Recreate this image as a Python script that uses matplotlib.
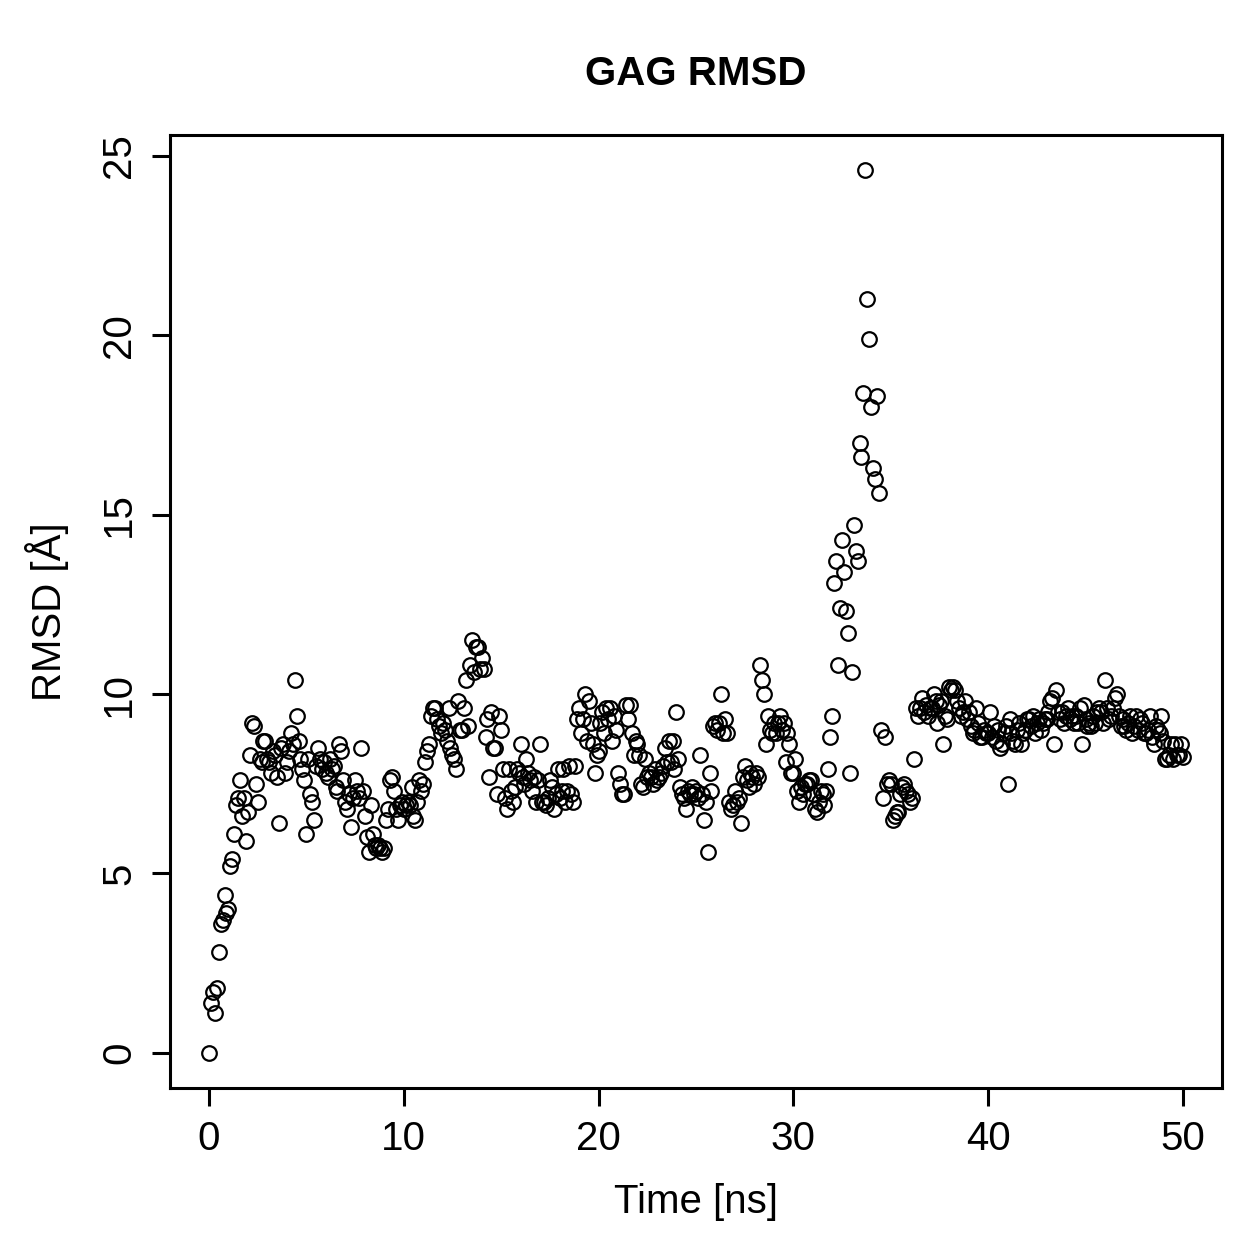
import matplotlib
matplotlib.use("Agg")
import matplotlib.pyplot as plt
import numpy as np

plt.rcParams['font.family'] = ['Liberation Sans', 'DejaVu Sans']

# RMSD values, one row per ns (0.1 ns steps)
rmsd = [
    0.0, 1.4, 1.7, 1.1, 1.8, 2.8, 3.6, 3.7, 4.4, 3.9,
    4.0, 5.2, 5.4, 6.1, 6.9, 7.1, 7.6, 6.6, 7.1, 5.9,
    6.7, 8.3, 9.2, 9.1, 7.5, 7.0, 8.2, 8.1, 8.7, 8.7,
    8.2, 8.1, 7.8, 8.4, 8.3, 7.7, 6.4, 8.5, 8.6, 7.8,
    8.1, 8.4, 8.9, 8.6, 10.4, 9.4, 8.7, 8.2, 7.9, 7.6,
    6.1, 8.2, 7.2, 7.0, 6.5, 8.0, 8.5, 8.2, 7.9, 8.1,
    7.8, 7.7, 8.2, 7.9, 8.0, 7.4, 7.3, 8.6, 8.4, 7.6,
    7.0, 6.8, 7.2, 6.3, 7.1, 7.6, 7.3, 7.1, 8.5, 7.3,
    6.6, 6.0, 5.6, 6.9, 6.1, 5.8, 5.7, 5.8, 5.7, 5.6,
    5.7, 6.5, 6.8, 7.6, 7.7, 7.3, 6.8, 6.5, 6.9, 7.0,
    6.8, 6.9, 7.0, 6.9, 7.4, 6.6, 6.5, 7.0, 7.6, 7.3,
    7.5, 8.1, 8.4, 8.6, 9.4, 9.6, 9.6, 9.3, 9.1, 8.9,
    9.2, 9.0, 8.7, 9.6, 8.5, 8.3, 8.2, 7.9, 9.8, 9.0,
    9.0, 9.6, 10.4, 9.1, 10.8, 11.5, 10.6, 11.3, 11.3, 10.7,
    11.0, 10.7, 8.8, 9.3, 7.7, 9.5, 8.5, 8.5, 7.2, 9.4,
    9.0, 7.9, 7.1, 6.8, 7.9, 7.3, 7.0, 7.4, 7.9, 7.8,
    8.6, 7.7, 7.5, 8.2, 7.8, 7.6, 7.3, 7.7, 7.0, 7.6,
    8.6, 7.0, 7.0, 6.9, 7.1, 7.6, 7.4, 6.8, 7.2, 7.9,
    7.1, 7.3, 7.9, 7.0, 7.3, 8.0, 7.2, 7.0, 8.0, 9.3,
    9.6, 8.9, 9.3, 10.0, 8.7, 9.8, 9.2, 8.6, 7.8, 8.3,
    8.4, 9.2, 9.5, 8.9, 9.6, 9.3, 9.6, 8.7, 9.4, 9.0,
    7.8, 7.5, 7.2, 7.2, 9.7, 9.3, 9.7, 8.9, 8.3, 8.7,
    8.6, 8.3, 7.5, 7.4, 8.2, 7.7, 7.8, 7.7, 7.5, 7.9,
    7.6, 7.7, 7.8, 8.0, 8.5, 8.1, 8.7, 8.1, 8.7, 7.9,
    9.5, 8.2, 7.4, 7.2, 7.1, 6.8, 7.3, 7.2, 7.4, 7.2,
    7.3, 7.1, 8.3, 7.2, 6.5, 7.0, 5.6, 7.8, 7.3, 9.1,
    9.2, 9.0, 9.2, 10.0, 8.9, 9.3, 8.9, 7.0, 6.8, 6.9,
    7.3, 7.0, 7.1, 6.4, 7.7, 8.0, 7.6, 7.4, 7.8, 7.7,
    7.5, 7.8, 7.7, 10.8, 10.4, 10.0, 8.6, 9.4, 9.0, 8.9,
    9.2, 8.9, 9.2, 9.4, 9.0, 9.2, 8.1, 8.9, 8.6, 7.8,
    7.8, 8.2, 7.3, 7.0, 7.4, 7.2, 7.5, 7.5, 7.6, 7.6,
    7.2, 6.8, 6.7, 7.0, 7.3, 7.2, 6.9, 7.3, 7.9, 8.8,
    9.4, 13.1, 13.7, 10.8, 12.4, 14.3, 13.4, 12.3, 11.7, 7.8,
    10.6, 14.7, 14.0, 13.7, 17.0, 16.6, 18.4, 24.6, 21.0, 19.9,
    18.0, 16.3, 16.0, 18.3, 15.6, 9.0, 7.1, 8.8, 7.5, 7.6,
    7.5, 6.5, 6.6, 6.7, 6.7, 7.2, 7.4, 7.5, 7.3, 7.2,
    7.0, 7.1, 8.2, 9.6, 9.4, 9.6, 9.9, 9.5, 9.7, 9.4,
    9.6, 9.6, 10.0, 9.8, 9.2, 9.7, 9.8, 8.6, 9.4, 9.3,
    10.2, 10.1, 10.2, 10.1, 9.8, 9.6, 9.4, 9.5, 9.8, 9.3,
    9.5, 9.1, 8.9, 9.0, 9.6, 9.2, 8.8, 8.8, 9.0, 8.9,
    8.9, 9.5, 8.8, 9.1, 8.7, 9.0, 8.5, 8.6, 8.9, 9.1,
    7.5, 9.3, 8.9, 8.7, 8.6, 9.0, 9.2, 8.6, 8.9, 9.0,
    9.3, 9.3, 9.1, 9.4, 8.9, 9.2, 9.3, 9.0, 9.2, 9.3,
    9.3, 9.5, 9.8, 9.9, 8.6, 10.1, 9.5, 9.3, 9.5, 9.2,
    9.4, 9.6, 9.3, 9.4, 9.2, 9.4, 9.2, 9.6, 8.6, 9.7,
    9.3, 9.1, 9.2, 9.1, 9.4, 9.2, 9.5, 9.6, 9.5, 9.2,
    10.4, 9.6, 9.3, 9.4, 9.6, 9.9, 10.0, 9.4, 9.1, 9.3,
    9.1, 9.0, 9.2, 9.4, 8.9, 9.1, 9.4, 9.0, 9.3, 9.2,
    8.9, 8.9, 9.0, 9.4, 8.8, 8.6, 9.1, 9.0, 8.9, 9.4,
    8.7, 8.2, 8.2, 8.3, 8.6, 8.2, 8.6, 8.3, 8.3, 8.6,
    8.25,
]
time = np.arange(len(rmsd)) * 0.1

xticks = [0, 10, 20, 30, 40, 50]
yticks = [0, 5, 10, 15, 20, 25]

fig = plt.figure(figsize=(12.59, 12.59), dpi=100)
ax = fig.add_axes([0.135, 0.1358, 0.8355, 0.757])

ax.plot(time, rmsd, 'o', mfc='none', mec='black', ms=10.5, mew=1.6)

ax.set_xlim(-2, 52)
ax.set_ylim(-0.984, 25.584)
ax.set_xticks(xticks)
ax.set_yticks(yticks)
ax.set_yticklabels([str(v) for v in yticks], rotation=90, va='center')
ax.tick_params(direction='out', length=13, width=2.2, labelsize=29, pad=10)
for s in ax.spines.values():
    s.set_linewidth(2.2)

ax.set_xlabel('Time [ns]', fontsize=29, labelpad=18)
ax.set_ylabel('RMSD [Å]', fontsize=29, labelpad=22)
ax.set_title('GAG RMSD', fontsize=29, fontweight='bold', pad=36)

fig.savefig('out.png', dpi=100)
